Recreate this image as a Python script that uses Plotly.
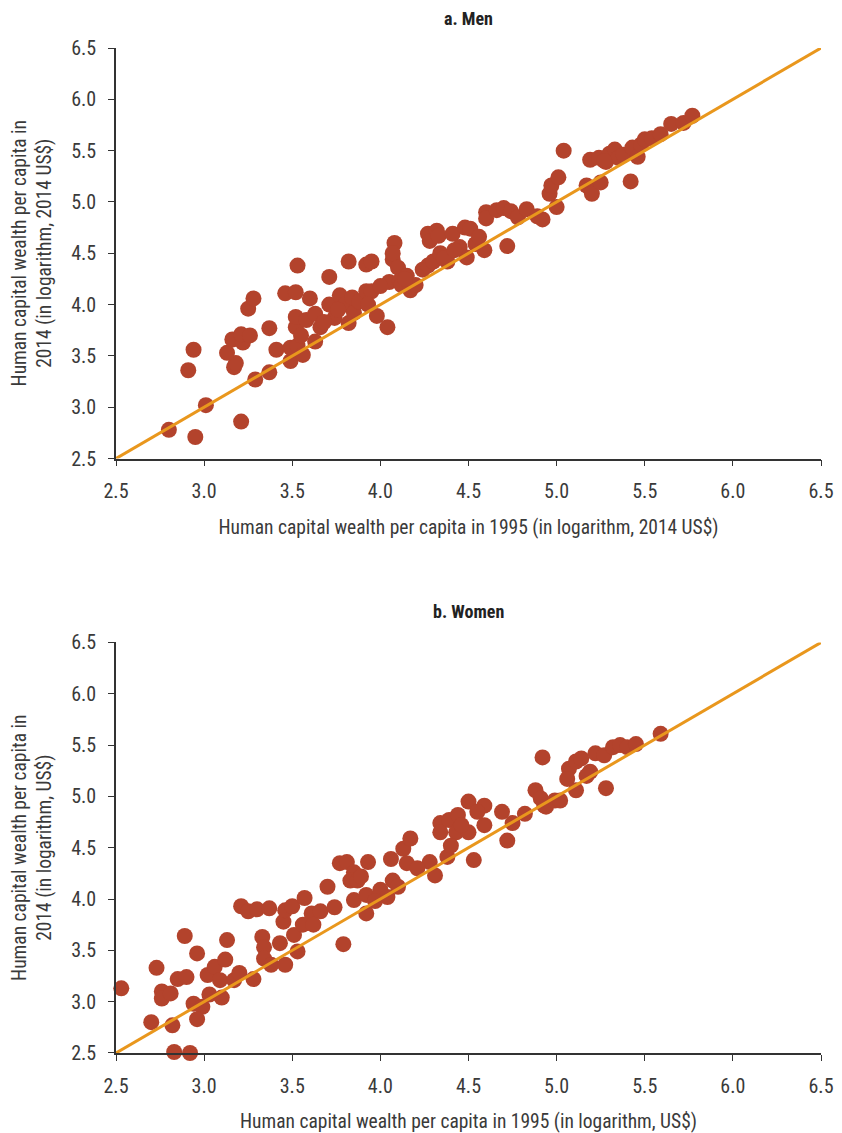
import plotly.graph_objects as go
from plotly.subplots import make_subplots

# a. Men: log human capital wealth per capita, 1995 vs 2014
men_1995 = [2.80, 2.95, 3.01, 2.91, 2.94, 3.21, 3.29, 3.37, 3.17, 3.18, 3.13, 3.16, 3.22, 3.21, 3.26,
            3.25, 3.28, 3.37, 3.41, 3.46, 3.52, 3.53, 3.49, 3.49, 3.53, 3.56, 3.52, 3.52, 3.58, 3.60,
            3.63, 3.66, 3.63, 3.71, 3.71, 3.74, 3.77, 3.80, 3.82, 3.82, 3.84, 3.85, 3.88, 3.92, 3.95,
            3.92, 3.95, 3.93, 3.98, 4.04, 4.05, 4.07, 4.08, 4.07, 4.10, 4.11, 4.12, 4.15, 4.17, 4.20,
            4.24, 4.27, 4.27, 4.28, 4.30, 4.32, 4.33, 4.34, 4.38, 4.41, 4.45, 4.48, 4.49, 4.51, 4.54,
            4.59, 4.60, 4.60, 4.66, 4.70, 4.72, 4.74, 4.78, 4.83, 4.89, 4.92, 4.96, 4.97, 5.01, 5.00,
            5.04, 5.17, 5.20, 5.19, 5.25, 5.24, 5.28, 5.30, 5.33, 5.35, 5.38, 5.42, 5.43, 5.46, 5.48,
            5.50, 5.54, 5.59, 5.65, 5.72, 5.77, 3.55, 3.68, 3.76, 4.00, 4.14, 4.36, 4.42, 4.56, 5.27]
men_2014 = [2.78, 2.71, 3.02, 3.36, 3.56, 2.86, 3.27, 3.34, 3.39, 3.43, 3.53, 3.66, 3.63, 3.71, 3.70,
            3.96, 4.06, 3.77, 3.56, 4.11, 4.12, 4.38, 3.45, 3.58, 3.60, 3.51, 3.78, 3.88, 3.85, 4.06,
            3.91, 3.78, 3.64, 4.00, 4.27, 3.87, 4.09, 4.00, 4.42, 3.82, 4.07, 3.92, 4.03, 4.39, 4.42,
            4.13, 4.13, 4.00, 3.89, 3.78, 4.22, 4.44, 4.60, 4.50, 4.36, 4.23, 4.19, 4.28, 4.14, 4.19,
            4.34, 4.38, 4.69, 4.62, 4.42, 4.72, 4.67, 4.50, 4.42, 4.69, 4.56, 4.75, 4.46, 4.74, 4.59,
            4.53, 4.90, 4.84, 4.92, 4.94, 4.57, 4.91, 4.85, 4.93, 4.86, 4.83, 5.08, 5.16, 5.24, 4.95,
            5.50, 5.16, 5.08, 5.41, 5.19, 5.43, 5.39, 5.47, 5.51, 5.43, 5.46, 5.20, 5.53, 5.44, 5.56,
            5.61, 5.62, 5.66, 5.76, 5.77, 5.84, 3.70, 3.83, 3.95, 4.18, 4.25, 4.45, 4.53, 4.66, 5.40]

# b. Women
women_1995 = [2.53, 2.70, 2.73, 2.76, 2.76, 2.81, 2.82, 2.83, 2.92, 2.85, 2.90, 2.89, 2.96, 2.94,
              2.99, 2.96, 3.02, 3.06, 3.12, 3.13, 3.03, 3.10, 3.09, 3.17, 3.20, 3.28, 3.21, 3.25,
              3.30, 3.37, 3.33, 3.34, 3.34, 3.38, 3.46, 3.43, 3.51, 3.53, 3.45, 3.46, 3.50, 3.57,
              3.61, 3.66, 3.70, 3.56, 3.62, 3.79, 3.92, 3.77, 3.81, 3.85, 3.83, 3.87, 3.89, 3.93,
              3.85, 3.92, 4.00, 4.04, 4.07, 4.06, 4.13, 4.17, 4.15, 4.28, 4.31, 4.38, 4.34, 4.34,
              4.39, 4.44, 4.43, 4.50, 4.40, 4.53, 4.50, 4.59, 4.55, 4.59, 4.69, 4.72, 4.75, 4.82,
              4.88, 4.93, 4.92, 4.91, 4.94, 4.99, 5.02, 5.07, 5.06, 5.11, 5.14, 5.19, 5.11, 5.22,
              5.27, 5.28, 5.32, 5.36, 5.40, 5.45, 5.59, 3.74, 3.97, 4.10, 4.21, 4.46, 5.17]
women_2014 = [3.13, 2.80, 3.33, 3.10, 3.03, 3.08, 2.77, 2.51, 2.50, 3.22, 3.24, 3.64, 3.47, 2.98,
              2.95, 2.83, 3.26, 3.34, 3.41, 3.60, 3.07, 3.04, 3.21, 3.21, 3.28, 3.22, 3.93, 3.88,
              3.90, 3.91, 3.63, 3.53, 3.42, 3.36, 3.36, 3.57, 3.65, 3.49, 3.78, 3.89, 3.93, 4.01,
              3.86, 3.88, 4.12, 3.75, 3.75, 3.56, 3.86, 4.35, 4.36, 4.26, 4.18, 4.18, 4.22, 4.36,
              3.99, 4.04, 4.09, 4.02, 4.18, 4.39, 4.49, 4.59, 4.35, 4.36, 4.23, 4.41, 4.74, 4.65,
              4.77, 4.82, 4.65, 4.65, 4.52, 4.38, 4.95, 4.91, 4.85, 4.72, 4.85, 4.57, 4.74, 4.83,
              5.06, 4.91, 5.38, 4.98, 4.90, 4.96, 4.96, 5.27, 5.17, 5.34, 5.37, 5.24, 5.06, 5.42,
              5.40, 5.08, 5.48, 5.50, 5.48, 5.51, 5.61, 3.92, 3.98, 4.12, 4.30, 4.72, 5.20]

line_x = [2.5, 6.5]
line_y = [2.5, 6.5]
tick_vals = [2.5, 3.0, 3.5, 4.0, 4.5, 5.0, 5.5, 6.0, 6.5]

FONT = "Roboto Condensed, DejaVu Sans Condensed, Liberation Sans Narrow, Roboto, sans-serif"
DOT = "#b3432c"
LINE = "#e9971d"
TXT = "#3a3a3a"

fig = make_subplots(rows=2, cols=1, vertical_spacing=0.183)

panels = [(men_1995, men_2014), (women_1995, women_2014)]
for i, (xs, ys) in enumerate(panels, start=1):
    fig.add_trace(go.Scatter(x=xs, y=ys, mode="markers", cliponaxis=False,
                             marker=dict(color=DOT, size=16, line=dict(width=0))),
                  row=i, col=1)
    fig.add_trace(go.Scatter(x=line_x, y=line_y, mode="lines", cliponaxis=False,
                             line=dict(color=LINE, width=3)),
                  row=i, col=1)

axis_common = dict(range=[2.5, 6.5], tickvals=tick_vals, tickformat=".1f",
                   showgrid=False, zeroline=False, showline=True, linecolor="#333",
                   linewidth=1.5, ticks="outside", ticklen=6, tickcolor="#333",
                   automargin=False, ticklabelstandoff=8,
                   tickfont=dict(size=20, color=TXT, family=FONT))

fig.update_xaxes(**axis_common)
fig.update_yaxes(**axis_common)

title_font = dict(size=19.5, color=TXT, family=FONT)
fig.update_xaxes(title=dict(text="Human capital wealth per capita in 1995 (in logarithm, 2014 US$)",
                            font=title_font, standoff=18), row=1, col=1)
fig.update_xaxes(title=dict(text="Human capital wealth per capita in 1995 (in logarithm, US$)",
                            font=title_font, standoff=18), row=2, col=1)
fig.update_yaxes(title=dict(text="Human capital wealth per capita in<br>2014 (in logarithm, 2014 US$)",
                            font=title_font, standoff=20), row=1, col=1)
fig.update_yaxes(title=dict(text="Human capital wealth per capita in<br>2014 (in logarithm, US$)",
                            font=title_font, standoff=20), row=2, col=1)

for txt, y in [("<b>a. Men</b>", 1.0), ("<b>b. Women</b>", 0.409)]:
    fig.add_annotation(text=txt, x=0.5, xref="paper", y=y, yref="paper", yanchor="middle",
                       yshift=30, showarrow=False, font=dict(size=18, color="#222", family=FONT))

# page body adds an 8px offset, so the figure is 8px smaller than the window
fig.update_layout(width=834, height=1125, showlegend=False,
                  margin=dict(l=108, r=21, t=40, b=80),
                  plot_bgcolor="white", paper_bgcolor="white",
                  font=dict(family=FONT))

fig.write_html("out.html")
